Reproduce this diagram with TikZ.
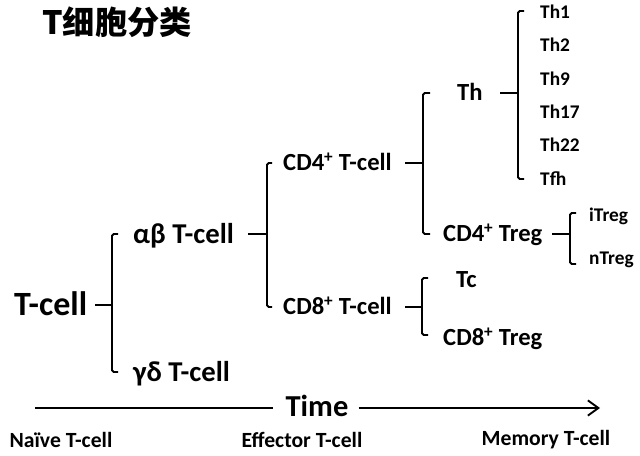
\documentclass[tikz,border=0pt]{standalone}
\usepackage{fontspec}
\setmainfont{Carlito}
\newfontfamily\cjk{Noto Sans CJK SC}
\usetikzlibrary{arrows.meta,calc}
\tikzset{>={Straight Barb[length=9pt,width=13pt]}}

\begin{document}
\begin{tikzpicture}[x=0.03cm, y=-0.03cm,
	cell/.style={anchor=west, inner sep=0pt, font=\bfseries\fontsize{21}{23}\selectfont, text height=17.7pt, text depth=4.2pt},
	greek/.style={cell, font=\bfseries\fontsize{24.5}{26}\selectfont, text height=20.6pt, text depth=4.9pt},
	root/.style={cell, font=\bfseries\fontsize{29}{31}\selectfont, text height=24.5pt, text depth=5.8pt},
	leaf/.style={cell, font=\bfseries\fontsize{16.5}{18}\selectfont, text height=13.9pt, text depth=3.3pt},
	stage/.style={anchor=center, inner sep=0pt, font=\bfseries\fontsize{18.5}{20}\selectfont},
	branch/.style={line width=1.6pt, rounded corners=1.5pt}]
	\useasboundingbox (0,0) rectangle (640,456);
	\node[anchor=west, inner sep=0pt] (title) at (42,22) {\cjk\bfseries\fontsize{27.5}{30}\selectfont T细胞分类};
	% tree
	\node[root] (tcell) at (14,305) {T-cell};
	\node[greek] (ab) at (133,234) {αβ T-cell};
	\node[greek] (gd) at (133,372) {γδ T-cell};
	\node[cell] (cd4) at (283,163) {CD4\textsuperscript{+} T-cell};
	\node[cell] (cd8) at (283,307) {CD8\textsuperscript{+} T-cell};
	\node[cell] (th) at (457,93) {Th};
	\node[cell] (cd4treg) at (443,234) {CD4\textsuperscript{+} Treg};
	\node[cell] (tc) at (456,280) {Tc};
	\node[cell] (cd8treg) at (443,338) {CD8\textsuperscript{+} Treg};
	\foreach \name [count=\i] in {Th1,Th2,Th9,Th17,Th22,Tfh}
		\node[leaf] (th\i) at (540,{12+33.4*(\i-1)}) {\name};
	\node[leaf] (itreg) at (589,215) {iTreg};
	\node[leaf] (ntreg) at (589,258) {nTreg};
	% brackets
	\coordinate (j1) at (tcell.east -| 112,0);
	\coordinate (j2) at (ab.east -| 267,0);
	\coordinate (j3) at (cd4.east -| 423,0);
	\coordinate (j4) at (th.east -| 518,0);
	\coordinate (j5) at (cd4treg.east -| 570,0);
	\coordinate (j6) at (cd8.east -| 422,0);
	\draw[branch] (tcell.east -| 95,0) -- (j1);
	\draw[branch] ($(ab.west)+(-15,0)$) -| (j1) |- ($(gd.west)+(-15,0)$);
	\draw[branch] (ab.east -| 248,0) -- (j2);
	\draw[branch] ($(cd4.west)+(-11,0)$) -| (j2) |- ($(cd8.west)+(-11,0)$);
	\draw[branch] (cd4.east -| 405,0) -- (j3);
	\draw[branch] ($(th.west)+(-27,0)$) -| (j3) |- ($(cd4treg.west)+(-13,0)$);
	\draw[branch] (th.east -| 500,0) -- (j4);
	\draw[branch] ($(th1.west)+(-16,-1)$) -| (j4) |- ($(th6.west)+(-16,0)$);
	\draw[branch] (cd4treg.east -| 552,0) -- (j5);
	\draw[branch] ($(itreg.west)+(-13,-2)$) -| (j5) |- ($(ntreg.west)+(-13,6)$);
	\draw[branch] (cd8.east -| 405,0) -- (j6);
	\draw[branch] ($(tc.west)+(-28,-2)$) -| (j6) |- ($(cd8treg.west)+(-15,-3)$);
	% time axis
	\node[inner sep=0pt, font=\bfseries\fontsize{26}{28}\selectfont] (time) at (317,406) {Time};
	\coordinate (t0) at (35,408);
	\coordinate (t1) at (600,408);
	\draw[branch] (t0) -- ($(t0 -| time.west)+(-12,0)$);
	\draw[branch, ->] ($(t1 -| time.east)+(10,0)$) -- (t1);
	\node[stage] (naive) at (61,440) {Naïve T-cell};
	\node[stage] (effector) at (302,440) {Effector T-cell};
	\node[stage] (memory) at (546,440) {Memory T-cell};
\end{tikzpicture}
\end{document}
